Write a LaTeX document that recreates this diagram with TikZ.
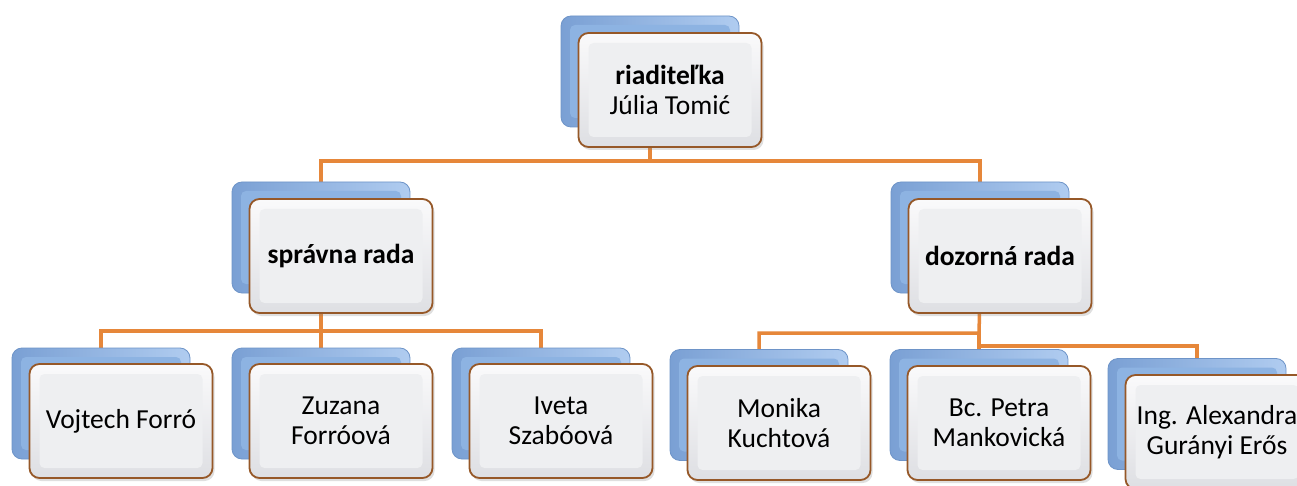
\documentclass[tikz,border=0pt]{standalone}
\usepackage{fontspec}
\setmainfont{Carlito}
\usetikzlibrary{backgrounds,shadows}
\definecolor{conncol}{RGB}{230,135,58}
\definecolor{brownedge}{RGB}{150,88,40}
\definecolor{blueedge}{RGB}{110,148,200}
\definecolor{blueL}{RGB}{122,160,212}
\definecolor{blueR}{RGB}{176,204,240}
\definecolor{bluein}{RGB}{141,179,226}
\definecolor{frontT}{RGB}{250,250,251}
\definecolor{frontB}{RGB}{222,223,227}
\definecolor{frontin}{RGB}{238,239,241}
\tikzset{
  backbox/.style={draw=blueedge, line width=0.8pt, rounded corners=10pt,
    left color=blueL, right color=blueR,
    minimum width=178pt, minimum height=111pt, inner sep=0pt,
    path picture={\fill[bluein, rounded corners=5pt]
      ([xshift=9pt,yshift=-9pt]path picture bounding box.north west) rectangle
      ([xshift=-9pt,yshift=9pt]path picture bounding box.south east);}},
  frontbox/.style={draw=brownedge, line width=1.8pt, rounded corners=10pt,
    top color=frontT, bottom color=frontB,
    minimum width=183pt, minimum height=114pt, inner sep=0pt,
    align=center, font=\fontsize{27.5}{30}\selectfont,
    drop shadow={shadow xshift=2pt, shadow yshift=-3pt, opacity=0.25},
    path picture={\fill[frontin, rounded corners=5pt]
      ([xshift=10pt,yshift=-10pt]path picture bounding box.north west) rectangle
      ([xshift=-10pt,yshift=10pt]path picture bounding box.south east);}},
  connector/.style={draw=conncol, line width=3.5pt}
}
\begin{document}
\begin{tikzpicture}[x=1pt,y=-1pt]
\useasboundingbox (0,0) rectangle (1297,486);
% top
\node[backbox] (b0) at (650,71.5) {};
\node[frontbox] (f0) at (670,90) {\textbf{riaditeľka}\\Júlia Tomić};
% middle
\node[backbox] (b1) at (321,237.5) {};
\node[frontbox] (f1) at (341,256) {\textbf{správna rada}};
\node[backbox] (b2) at (980,237.5) {};
\node[frontbox] (f2) at (1000,256) {\textbf{dozorná rada}};
% bottom
\node[backbox] (b3) at (101,403.5) {};
\node[frontbox] (f3) at (121,421) {Vojtech Forró};
\node[backbox] (b4) at (321,403.5) {};
\node[frontbox] (f4) at (341,421) {Zuzana\\Forróová};
\node[backbox] (b5) at (541,403.5) {};
\node[frontbox] (f5) at (561,421) {Iveta\\Szabóová};
\node[backbox] (b6) at (759,405) {};
\node[frontbox] (f6) at (779,423) {Monika\\Kuchtová};
\node[backbox] (b7) at (979,405) {};
\node[frontbox] (f7) at (999,423) {Bc. Petra\\Mankovická};
\node[backbox] (b8) at (1197,414) {};
\node[frontbox] (f8) at (1217,432) {Ing. Alexandra\\Gurányi Erős};
% connectors
\coordinate (j0) at (650,161);
\coordinate (j1) at (321,331);
\coordinate (j2) at (979,333);
\coordinate (j3) at (979,346);
\begin{pgfonlayer}{background}
\fill[white] (0,0) rectangle (1297,486);
\draw[connector] (b0.south) -- (j0) -| (b1.north);
\draw[connector] (j0) -| (b2.north);
\draw[connector] (b1.south) -- (j1) -| (b3.north);
\draw[connector] (j1) -| (b5.north);
\draw[connector] (j1) -- (b4.north);
\draw[connector] (b2.south) -- (j2) -| (b6.north);
\draw[connector] (j2) -- (b7.north);
\draw[connector] (j3) -| (b8.north);
\end{pgfonlayer}
\end{tikzpicture}
\end{document}
